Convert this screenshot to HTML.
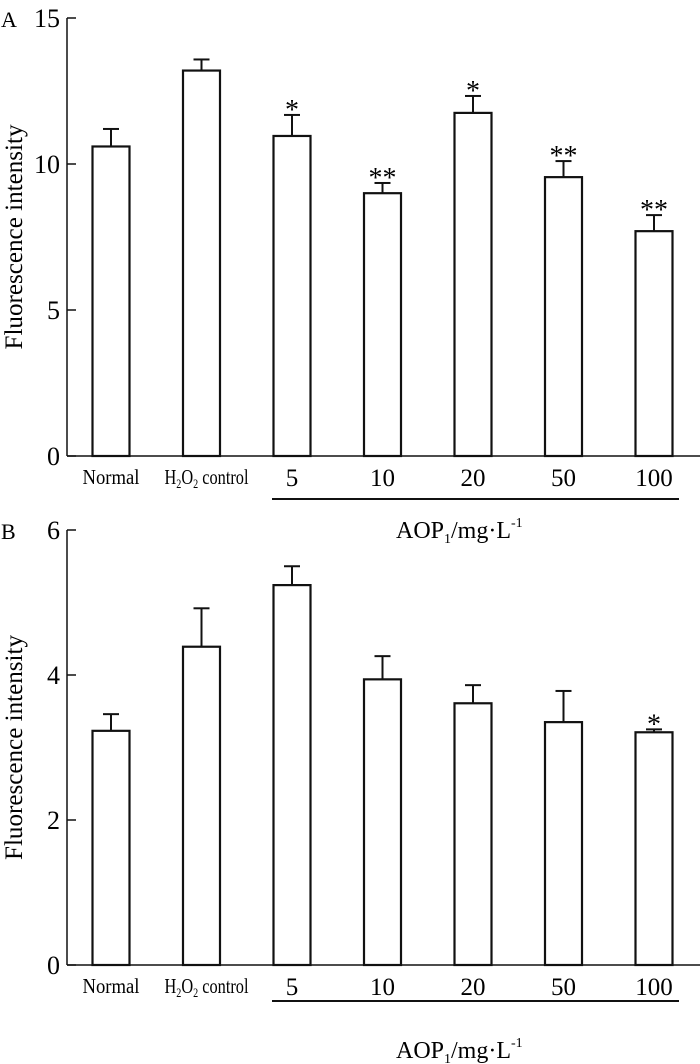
<!DOCTYPE html>
<html><head><meta charset="utf-8"><style>
body{margin:0;background:#fff;}
svg{display:block;font-family:"Liberation Serif",serif;}
</style></head><body>
<svg width="700" height="1064" viewBox="0 0 700 1064">
<g id="chartA"></g>
<g id="chartB"></g>
</svg>
<script>
const categories = ["Normal","H2O2 control","5","10","20","50","100"];
const valuesA = [10.6,13.2,10.96,9.0,11.75,9.55,7.7];
const errorsA = [0.6,0.38,0.72,0.35,0.58,0.55,0.55];
const starsA = ["","","*","**","*","**","**"];
const ticksA = [0,5,10,15];
const valuesB = [3.23,4.39,5.24,3.94,3.61,3.35,3.21];
const errorsB = [0.23,0.53,0.26,0.32,0.25,0.43,0.04];
const starsB = ["","","","","","","*"];
const ticksB = [0,2,4,6];

const NS="http://www.w3.org/2000/svg";
function mk(parent,tag,attrs,text){
  const e=document.createElementNS(NS,tag);
  for(const k in attrs) e.setAttribute(k,attrs[k]);
  if(text!==undefined) e.textContent=text;
  parent.appendChild(e); return e;
}
function draw(g,cfg){
  const {y0,pxPerUnit,values,errors,stars,ticks,lineY,aopY,letter}=cfg;
  const ys=v=>y0-v*pxPerUnit;
  const xs=i=>111+i*90.5;
  const bw=37;
  const top=ys(ticks[ticks.length-1]);
  const ax=mk(g,'line',{x1:67,y1:top,x2:67,y2:y0,stroke:'#111','stroke-width':1.5});
  
  
  const bx=mk(g,'line',{x1:67,y1:y0,x2:700,y2:y0,stroke:'#111','stroke-width':1.5});
  
  
  ticks.forEach(t=>{
    const tk=mk(g,'line',{x1:67,y1:ys(t),x2:76,y2:ys(t),stroke:'#111','stroke-width':1.5});
    
    
    const tl=mk(g,'text',{x:60,y:ys(t)+9,'text-anchor':'end','font-size':26},String(t));
    
    
  });
  const yl=mk(g,'text',{x:0,y:0,'text-anchor':'middle','font-size':25,textLength:225,lengthAdjust:'spacingAndGlyphs',transform:`translate(22,${(top+y0)/2}) rotate(-90)`},'Fluorescence intensity');
  
  
  const lt=mk(g,'text',{x:1,y:top+9,'font-size':22},letter);
  
  
  values.forEach((v,i)=>{
    const cx=xs(i);
    const eTop=ys(v+errors[i]);
    const el=mk(g,'line',{x1:cx,y1:ys(v),x2:cx,y2:eTop,stroke:'#111','stroke-width':2});
    
    
    const ec=mk(g,'line',{x1:cx-8,y1:eTop,x2:cx+8,y2:eTop,stroke:'#111','stroke-width':2});
    
    
    const r=mk(g,'rect',{x:cx-bw/2,y:ys(v),width:bw,height:y0-ys(v),fill:'#fff',stroke:'#111','stroke-width':2.2});
    
    
    if(stars[i]){
      const s=mk(g,'text',{x:cx,y:eTop+4,'text-anchor':'middle','font-size':28},stars[i]);
      
      
    }
    let xl;
    if(i===1){
      xl=mk(g,'text',{x:cx+5,y:y0+28,'text-anchor':'middle','font-size':21,'textLength':84,'lengthAdjust':'spacingAndGlyphs'});
      xl.innerHTML='H<tspan font-size="13" dy="4">2</tspan><tspan dy="-4">O</tspan><tspan font-size="13" dy="4">2</tspan><tspan dy="-4"> control</tspan>';
    } else if(i===0){
      xl=mk(g,'text',{x:cx,y:y0+28,'text-anchor':'middle','font-size':21,'textLength':57,'lengthAdjust':'spacingAndGlyphs'},categories[i]);
    } else {
      xl=mk(g,'text',{x:cx,y:y0+30,'text-anchor':'middle','font-size':25},categories[i]);
    }
    
    
  });
  const ul=mk(g,'line',{x1:272,y1:lineY,x2:679,y2:lineY,stroke:'#111','stroke-width':2});
  
  
  const at=mk(g,'text',{x:396,y:aopY,'font-size':24});
  at.innerHTML='AOP<tspan font-size="14" dy="5">1</tspan><tspan dy="-5">/mg·L</tspan><tspan font-size="14" dy="-11">-1</tspan>';
  
  
}
draw(document.getElementById('chartA'),{y0:456,pxPerUnit:29.2,values:valuesA,errors:errorsA,stars:starsA,ticks:ticksA,lineY:499,aopY:538,letter:'A'});
draw(document.getElementById('chartB'),{y0:965,pxPerUnit:72.5,values:valuesB,errors:errorsB,stars:starsB,ticks:ticksB,lineY:1001,aopY:1058,letter:'B'});
</script>
</body></html>
